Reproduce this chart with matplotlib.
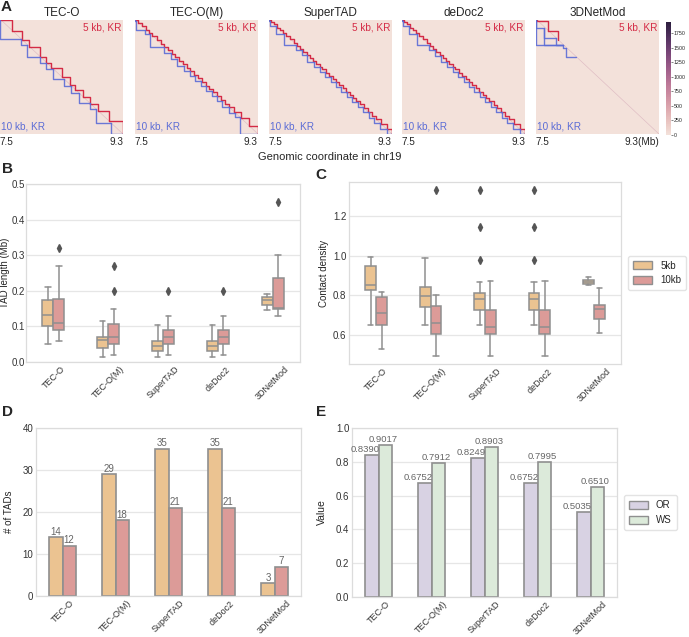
import numpy as np
import matplotlib.pyplot as plt
import seaborn as sns
from matplotlib.patches import Patch

sns.set_style("whitegrid")
plt.rcParams['font.family'] = ['Liberation Sans', 'DejaVu Sans']

# ---------------- data ----------------
methods = ['TEC-O', 'TEC-O(M)', 'SuperTAD', 'deDoc2', '3DNetMod']

# panel A: TAD boundaries (Mb) on chr19 7.5-9.3
tec_o_5kb = [7.50, 7.68, 7.82, 7.92, 8.09, 8.18, 8.25, 8.40, 8.52, 8.60, 8.72, 8.82, 8.93, 9.10, 9.30]
tec_o_10kb = [7.50, 7.80, 7.89, 8.09, 8.18, 8.27, 8.43, 8.54, 8.66, 8.81, 8.91, 9.13, 9.30]
tec_om_5kb = [7.50, 7.55, 7.60, 7.66, 7.71, 7.75, 7.82, 7.88, 7.93, 7.98, 8.04, 8.09, 8.15, 8.20, 8.26,
              8.31, 8.37, 8.42, 8.48, 8.54, 8.59, 8.64, 8.70, 8.76, 8.82, 8.88, 8.95, 9.05, 9.17, 9.30]
tec_om_10kb = [7.50, 7.52, 7.65, 7.72, 7.92, 8.02, 8.12, 8.22, 8.30, 8.38, 8.46, 8.54, 8.62, 8.70,
               8.78, 8.88, 8.97, 9.03, 9.30]
supertad_5kb = [7.50, 7.53, 7.57, 7.62, 7.66, 7.70, 7.75, 7.80, 7.86, 7.91, 7.95, 8.00, 8.05, 8.10,
                8.14, 8.19, 8.24, 8.28, 8.33, 8.38, 8.43, 8.48, 8.53, 8.58, 8.63, 8.68, 8.73, 8.78,
                8.83, 8.89, 8.95, 9.01, 9.07, 9.14, 9.22, 9.30]
supertad_10kb = [7.50, 7.52, 7.60, 7.72, 7.90, 7.98, 8.06, 8.16, 8.24, 8.32, 8.40, 8.48, 8.56, 8.64,
                 8.72, 8.80, 8.88, 8.96, 9.04, 9.12, 9.22, 9.30]
dedoc2_5kb = [7.50, 7.53, 7.57, 7.62, 7.66, 7.71, 7.75, 7.80, 7.86, 7.91, 7.95, 8.00, 8.05, 8.10,
              8.15, 8.19, 8.24, 8.28, 8.33, 8.38, 8.43, 8.48, 8.53, 8.58, 8.63, 8.68, 8.73, 8.78,
              8.84, 8.89, 8.95, 9.01, 9.07, 9.14, 9.22, 9.30]
dedoc2_10kb = [7.50, 7.52, 7.60, 7.72, 7.90, 7.98, 8.07, 8.16, 8.24, 8.32, 8.40, 8.48, 8.56, 8.64,
               8.72, 8.80, 8.88, 8.96, 9.04, 9.12, 9.22, 9.30]
netmod_5kb_pairs = [(7.50, 7.52), (7.52, 7.67), (7.67, 7.82)]
netmod_10kb_pairs = [(7.50, 7.62), (7.50, 7.89), (7.62, 7.89), (7.62, 7.79), (7.79, 7.89),
                     (7.89, 7.94), (7.94, 8.09)]

heat_bins = 360       # 5 kb bins
heat_bg = 0           # background contact value
heat_diag = 900       # diagonal contact value
heat_vmax = 1940

# panel B: TAD length (Mb) box stats  [whislo, q1, med, q3, whishi], fliers
len_5kb = [[0.050, 0.100, 0.133, 0.175, 0.210],
           [0.015, 0.040, 0.061, 0.070, 0.115],
           [0.015, 0.030, 0.045, 0.060, 0.105],
           [0.015, 0.030, 0.045, 0.060, 0.105],
           [0.145, 0.160, 0.173, 0.183, 0.190]]
len_5kb_fliers = [[], [], [], [], []]
len_10kb = [[0.060, 0.090, 0.110, 0.178, 0.270],
            [0.020, 0.050, 0.070, 0.108, 0.150],
            [0.020, 0.050, 0.070, 0.090, 0.130],
            [0.020, 0.050, 0.070, 0.090, 0.130],
            [0.130, 0.150, 0.152, 0.236, 0.300]]
len_10kb_fliers = [[0.32], [0.20, 0.27], [0.20], [0.20], [0.45]]

# panel C: contact density box stats
dens_5kb = [[0.650, 0.825, 0.850, 0.945, 0.995],
            [0.650, 0.739, 0.798, 0.842, 0.988],
            [0.650, 0.727, 0.779, 0.813, 0.869],
            [0.650, 0.727, 0.779, 0.813, 0.869],
            [0.853, 0.855, 0.866, 0.878, 0.892]]
dens_5kb_fliers = [[], [], [0.976, 1.147, 1.330], [0.976, 1.147, 1.330], []]
dens_10kb = [[0.530, 0.651, 0.712, 0.793, 0.815],
             [0.491, 0.602, 0.660, 0.746, 0.803],
             [0.491, 0.602, 0.640, 0.727, 0.872],
             [0.491, 0.602, 0.640, 0.727, 0.872],
             [0.611, 0.678, 0.729, 0.752, 0.835]]
dens_10kb_fliers = [[], [1.330], [], [], []]

# panel D: number of TADs
n_tads_5kb = [14, 29, 35, 35, 3]
n_tads_10kb = [12, 18, 21, 21, 7]

# panel E: OR / WS
or_vals = [0.8390, 0.6752, 0.8249, 0.6752, 0.5035]
ws_vals = [0.9017, 0.7912, 0.8903, 0.7995, 0.6510]

# ---------------- style ----------------
c5 = '#EBC391'
c10 = '#DC9B98'
c_or = '#D8D2E3'
c_ws = '#DCEADA'
edge = '#8f8f8f'
red = '#d42a45'
blue = '#5b6cd6'

W, H = 689, 637
fig = plt.figure(figsize=(W / 100, H / 100), dpi=100)


def px_axes(x0, y0, x1, y1):
    return fig.add_axes([x0 / W, 1 - y1 / H, (x1 - x0) / W, (y1 - y0) / H])


# ---------------- panel A ----------------
cmap = sns.cubehelix_palette(light=0.9, as_cmap=True)
mat = np.full((heat_bins, heat_bins), heat_bg, dtype=float)
np.fill_diagonal(mat, heat_diag)

tad_sets = [
    (list(zip(tec_o_5kb[:-1], tec_o_5kb[1:])), list(zip(tec_o_10kb[:-1], tec_o_10kb[1:]))),
    (list(zip(tec_om_5kb[:-1], tec_om_5kb[1:])), list(zip(tec_om_10kb[:-1], tec_om_10kb[1:]))),
    (list(zip(supertad_5kb[:-1], supertad_5kb[1:])), list(zip(supertad_10kb[:-1], supertad_10kb[1:]))),
    (list(zip(dedoc2_5kb[:-1], dedoc2_5kb[1:])), list(zip(dedoc2_10kb[:-1], dedoc2_10kb[1:]))),
    (netmod_5kb_pairs, netmod_10kb_pairs),
]
lefts = [0, 135, 269, 402, 536]
for i, name in enumerate(methods):
    ax = px_axes(lefts[i], 20, lefts[i] + 123, 134)
    im = ax.imshow(mat, cmap=cmap, vmin=0, vmax=heat_vmax, extent=[7.5, 9.3, 9.3, 7.5],
                   aspect='auto', interpolation='antialiased')
    t5, t10 = tad_sets[i]
    for s, e in t5:
        ax.plot([s, e, e], [s, s, e], color=red, lw=1.0)
    for s, e in t10:
        ax.plot([s, s, e], [s, e, e], color=blue, lw=1.0, alpha=0.9)
    ax.set_xlim(7.5, 9.3)
    ax.set_ylim(9.3, 7.5)
    ax.axis('off')
    ax.set_title(name, fontsize=8.5, pad=3)
    ax.text(0.985, 0.975, '5 kb, KR', color=red, fontsize=7.2, ha='right', va='top', transform=ax.transAxes)
    ax.text(0.01, 0.02, '10 kb, KR', color=blue, fontsize=7.2, ha='left', va='bottom', transform=ax.transAxes)
    ax.text(0, -0.03, '7.5', fontsize=7.2, ha='left', va='top', transform=ax.transAxes)
    ax.text(1, -0.03, '9.3(Mb)' if i == 4 else '9.3', fontsize=7.2, ha='right', va='top',
            transform=ax.transAxes)

cax = px_axes(666, 22, 670.5, 135)
cb = fig.colorbar(im, cax=cax, ticks=[0, 250, 500, 750, 1000, 1250, 1500, 1750])
cb.outline.set_visible(False)
cb.ax.tick_params(labelsize=3.8, length=1.5, width=0.4, pad=1)
fig.text(330 / W, 1 - 157 / H, 'Genomic coordinate in chr19', fontsize=8, ha='center', va='center')


# ---------------- helpers for B-E ----------------
def style_axes(ax):
    ax.grid(axis='y', color='#e6e6e6', lw=0.9)
    ax.grid(axis='x', visible=False)
    for sp in ax.spines.values():
        sp.set_color('#dcdcdc')
        sp.set_linewidth(0.9)
    ax.tick_params(axis='both', labelsize=7, colors='#333333', length=0, pad=2)
    ax.set_xticks(range(5))
    ax.set_xticklabels(methods, rotation=45, ha='center', fontsize=6.5)
    ax.set_xlim(-0.5, 4.5)


def make_stats(rows, fliers):
    out = []
    for r, f in zip(rows, fliers):
        out.append(dict(whislo=r[0], q1=r[1], med=r[2], q3=r[3], whishi=r[4], fliers=f))
    return out


def draw_boxes(ax, rows5, fl5, rows10, fl10):
    pos = np.arange(5)
    for rows, fl, col, off in [(rows5, fl5, c5, -0.1), (rows10, fl10, c10, 0.1)]:
        ax.bxp(make_stats(rows, fl), positions=pos + off, widths=0.2, patch_artist=True,
               manage_ticks=False,
               boxprops=dict(facecolor=col, edgecolor=edge, lw=1.1),
               medianprops=dict(color=edge, lw=1.1),
               whiskerprops=dict(color=edge, lw=1.1),
               capprops=dict(color=edge, lw=1.1),
               flierprops=dict(marker='d', markerfacecolor='#555555', markeredgecolor='#555555',
                               markersize=4))


def add_legend(ax, labels, colors):
    ax.legend(handles=[Patch(facecolor=c, edgecolor=edge, label=l) for l, c in zip(labels, colors)],
              loc='center left', bbox_to_anchor=(1.015, 0.5), fontsize=7, frameon=True,
              edgecolor='#dcdcdc', handlelength=2.0, handleheight=0.9, handletextpad=0.8,
              borderpad=0.5, borderaxespad=0.3)


# ---------------- panel B ----------------
ax_b = px_axes(26, 184, 300, 362)
draw_boxes(ax_b, len_5kb, len_5kb_fliers, len_10kb, len_10kb_fliers)
style_axes(ax_b)
ax_b.set_ylim(0, 0.5)
ax_b.set_yticks([0.0, 0.1, 0.2, 0.3, 0.4, 0.5])
ax_b.tick_params(axis='y', pad=1)
ax_b.set_ylabel('TAD length (Mb)', fontsize=7, labelpad=1)

# ---------------- panel C ----------------
ax_c = px_axes(349, 182, 621, 364)
draw_boxes(ax_c, dens_5kb, dens_5kb_fliers, dens_10kb, dens_10kb_fliers)
style_axes(ax_c)
ax_c.set_ylim(0.452, 1.372)
ax_c.set_yticks([0.6, 0.8, 1.0, 1.2])
ax_c.set_ylabel('Contact density', fontsize=7, labelpad=3)
add_legend(ax_c, ['5kb', '10kb'], [c5, c10])

# ---------------- panel D ----------------
ax_d = px_axes(36, 428, 301, 596)
x = np.arange(5)
b1 = ax_d.bar(x - 0.125, n_tads_5kb, 0.25, color=c5, edgecolor=edge, lw=1.2, zorder=2)
b2 = ax_d.bar(x + 0.125, n_tads_10kb, 0.25, color=c10, edgecolor=edge, lw=1.2, zorder=2)
ax_d.bar_label(b1, fontsize=7, color='#666666', padding=0.5)
ax_d.bar_label(b2, fontsize=7, color='#666666', padding=0.5)
style_axes(ax_d)
ax_d.set_ylim(0, 40)
ax_d.set_yticks([0, 10, 20, 30, 40])
ax_d.set_ylabel('# of TADs', fontsize=7, labelpad=6)

# ---------------- panel E ----------------
ax_e = px_axes(352, 428, 617, 597)
ax_e.bar(x - 0.125, or_vals, 0.25, color=c_or, edgecolor=edge, lw=1.2, zorder=2)
ax_e.bar(x + 0.125, ws_vals, 0.25, color=c_ws, edgecolor=edge, lw=1.2, zorder=2)
for i in range(5):
    ax_e.text(x[i] - 0.245, or_vals[i] + 0.006, f'{or_vals[i]:.4f}', fontsize=6.8, color='#666666',
              ha='center', va='bottom')
    ax_e.text(x[i] + 0.095, ws_vals[i] + 0.006, f'{ws_vals[i]:.4f}', fontsize=6.8, color='#666666',
              ha='center', va='bottom')
style_axes(ax_e)
ax_e.set_ylim(0, 1.0)
ax_e.set_yticks([0.0, 0.2, 0.4, 0.6, 0.8, 1.0])
ax_e.set_ylabel('Value', fontsize=7.5, labelpad=6)
add_legend(ax_e, ['OR', 'WS'], [c_or, c_ws])

# panel letters
for lab, px, py in [('A', 1, 0), ('B', 2, 162), ('C', 315, 168), ('D', 2, 405), ('E', 316, 405)]:
    fig.text(px / W, 1 - py / H, lab, fontsize=11, fontweight='bold', ha='left', va='top')

fig.savefig('out.png', dpi=100)
